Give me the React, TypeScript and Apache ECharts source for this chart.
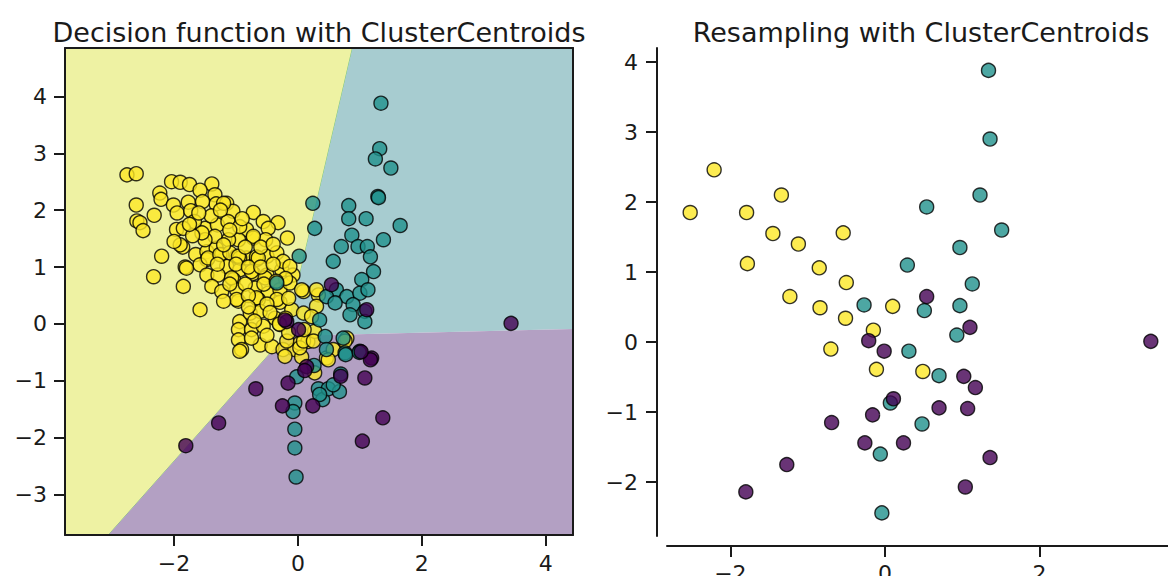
import React, { useEffect, useRef } from "react";
import * as echarts from "echarts";

// ---- data ----
const titles = ["Decision function with ClusterCentroids", "Resampling with ClusterCentroids"];

const leftXTicks = [-2, 0, 2, 4];
const leftYTicks = [-3, -2, -1, 0, 1, 2, 3, 4];
const rightXTicks = [-2, 0, 2];
const rightYTicks = [-2, -1, 0, 1, 2, 3, 4];

const leftXRange = [-3.76, 4.44];
const leftYRange = [-3.71, 4.85];
const rightXRange = [-2.82, 3.74];
const rightYRange = [-2.77, 4.2];

// decision regions (data coordinates)
const yellowRegion = [[-3.76, 4.85], [0.88, 4.85], [-0.2, -0.21], [-3.06, -3.71], [-3.76, -3.71]];
const tealRegion = [[0.88, 4.85], [4.44, 4.85], [4.44, -0.09], [-0.2, -0.21]];
const purpleRegion = [[-0.2, -0.21], [4.44, -0.09], [4.44, -3.71], [-3.06, -3.71]];

const leftYellow = [
  [-2.76, 2.62], [-2.61, 2.64], [-2.04, 2.5], [-1.9, 2.49], [-1.75, 2.45], [-1.39, 2.46], [-2.23, 2.3], [-2.21, 2.19],
  [-2.61, 2.09], [-2.32, 1.91], [-2.6, 1.81], [-2.55, 1.78], [-2.5, 1.64], [-1.58, 2.35], [-1.34, 2.27], [-1.32, 2.11],
  [-2.01, 2.09], [-1.77, 2.14], [-1.54, 2.15], [-1.95, 1.95], [-1.73, 1.99], [-1.15, 2.12], [-1.05, 1.98], [-0.72, 1.96],
  [-1.5, 1.68], [-1.67, 1.8], [-1.3, 1.74], [-1.13, 1.8], [-1.96, 1.66], [-1.85, 1.68], [-0.32, 1.78], [-0.56, 1.8],
  [-0.48, 1.68], [-0.17, 1.51], [-0.83, 1.66], [-0.72, 1.51], [-0.52, 1.48], [-0.96, 1.48], [-1.12, 1.48], [-1.86, 1.35],
  [-1.9, 1.39], [-1.65, 1.22], [-1.47, 1.27], [-1.32, 1.33], [-1.23, 1.22], [-2.2, 1.19], [-1.82, 1.0], [-2.33, 0.83],
  [-1.47, 1.13], [-1.58, 1.04], [-0.99, 1.19], [-0.83, 1.16], [-0.67, 1.13], [-0.5, 1.19], [-0.34, 1.25], [-1.15, 1.01],
  [-0.94, 0.95], [-0.72, 0.89], [-0.5, 0.86], [-0.26, 0.95], [-0.08, 0.86], [-1.47, 0.86], [-1.34, 1.54], [-1.5, 1.48],
  [-1.8, 0.98], [-1.58, 0.25], [-1.85, 0.66], [-1.45, 1.16], [-1.26, 1.22], [-1.1, 1.25], [-0.94, 1.16], [-0.67, 1.18],
  [-0.24, 1.1], [-0.13, 1.01], [-1.29, 0.86], [-1.04, 0.78], [-0.53, 0.81], [-1.39, 0.66], [-1.23, 0.57], [-0.99, 0.6],
  [-0.69, 0.63], [-0.48, 0.54], [-0.29, 0.6], [-0.13, 0.72], [0.09, 0.57], [-0.96, 0.4], [-0.64, 0.43], [-0.29, 0.38],
  [-0.1, 0.25], [0.09, 0.19], [0.33, 0.51], [0.3, 0.31], [-0.94, 0.04], [-0.77, 0.19], [-0.61, 0.22], [-0.37, 0.1],
  [-0.29, -0.01], [-0.96, -0.1], [-0.75, -0.1], [-0.56, -0.04], [-0.96, -0.28], [-0.91, -0.45], [-0.61, -0.37], [-0.42, -0.4],
  [-0.24, -0.45], [-0.05, -0.45], [0.03, -0.34], [0.16, -0.31], [0.27, -0.13], [0.22, 0.13], [-0.21, -0.57], [0.06, -0.58],
  [0.46, -0.6], [0.79, -0.25], [0.57, -0.45], [-0.94, -0.48], [0.03, -0.42], [0.49, -0.63], [0.27, -0.86], [-0.18, -0.3],
  [0.09, -0.3], [0.25, -0.3], [0.76, -0.3], [-1.2, 2.12], [-0.94, 1.71], [-0.72, 1.54], [-1.2, 1.39], [-0.96, 1.19],
  [-0.64, 1.16], [-1.07, 0.81], [-0.75, 0.92], [-0.99, 0.43], [-0.67, 0.46], [-0.34, 0.43], [0.06, 0.6], [0.3, 0.6],
  [-1.1, 1.65], [-0.85, 1.35], [-0.6, 1.35], [-0.4, 1.4], [-1.0, 1.05], [-0.8, 1.0], [-0.6, 1.0], [-0.4, 1.05],
  [-0.2, 0.8], [-1.1, 0.7], [-0.85, 0.7], [-0.55, 0.7], [-0.35, 0.75], [-0.8, 0.5], [-0.5, 0.35], [-0.15, 0.45],
  [-0.8, 0.3], [-1.2, 0.4], [-0.45, 0.2], [-0.2, 0.1], [-0.7, 0.05], [-0.5, -0.2], [-0.15, -0.15], [-0.75, -0.25],
  [-1.3, 1.05], [-1.55, 1.6], [-1.7, 1.55], [-1.4, 1.9], [-1.6, 1.95], [-1.25, 2.0], [-0.9, 1.85], [-2.0, 1.45],
  [-1.75, 1.75], [-0.3, 0.0], [0.1, -0.1],
];

const leftTeal = [
  [1.34, 3.88], [1.32, 3.08], [1.25, 2.9], [1.5, 2.74], [1.29, 2.24], [1.3, 2.22], [0.24, 2.12], [0.82, 2.08],
  [0.82, 1.85], [1.1, 1.85], [1.65, 1.73], [0.27, 1.68], [0.87, 1.56], [0.7, 1.36], [0.97, 1.36], [1.12, 1.36],
  [1.38, 1.48], [0.02, 1.19], [0.57, 1.1], [1.17, 1.18], [1.22, 0.92], [1.03, 0.78], [0.62, 0.6], [0.79, 0.48],
  [1.0, 0.54], [1.13, 0.6], [0.46, 0.48], [0.6, 0.37], [0.89, 0.34], [1.08, 0.22], [1.08, 0.04], [0.84, 0.16],
  [0.35, 0.07], [0.44, -0.22], [0.73, -0.25], [0.46, -0.45], [0.76, -0.51], [1.0, -0.48], [-0.34, 0.72], [-0.05, -1.39],
  [-0.08, -1.54], [-0.05, -1.85], [-0.05, -2.18], [-0.03, -2.69], [-0.02, -0.93], [0.26, -0.73], [0.33, -1.14], [0.4, -1.33],
  [0.49, -1.14], [0.67, -1.19], [0.57, -1.07], [0.35, -1.24], [0.69, -0.88], [0.77, -0.54], [0.99, -0.5],
];

const leftPurple = [
  [3.44, 0.01], [0.54, 0.69], [1.11, 0.25], [0.01, -0.1], [-0.18, 0.04], [1.19, -0.6], [0.14, -0.75], [-1.81, -2.14],
  [-1.28, -1.74], [-0.68, -1.14], [-0.25, -1.44], [0.24, -1.44], [-0.16, -1.04], [0.11, -0.82], [0.69, -0.92], [1.08, -0.95],
  [1.17, -0.63], [1.37, -1.65], [1.04, -2.06], [1.02, -0.49], [-0.21, 0.07],
];

const rightYellow = [
  [-2.52, 1.85], [-2.21, 2.46], [-1.79, 1.85], [-1.78, 1.12], [-1.34, 2.1], [-1.45, 1.55], [-1.12, 1.4], [-0.85, 1.06],
  [-0.54, 1.56], [-0.5, 0.85], [-1.23, 0.65], [-0.84, 0.49], [-0.51, 0.34], [0.1, 0.51], [-0.15, 0.17], [-0.7, -0.1],
  [-0.11, -0.39], [0.49, -0.42],
];

const rightTeal = [
  [1.34, 3.88], [1.36, 2.9], [1.23, 2.1], [0.54, 1.93], [1.51, 1.6], [0.97, 1.35], [0.29, 1.1], [1.13, 0.83],
  [-0.27, 0.53], [0.51, 0.45], [0.97, 0.52], [0.93, 0.1], [0.31, -0.13], [0.7, -0.48], [0.07, -0.87], [0.48, -1.17],
  [-0.06, -1.6], [-0.04, -2.44],
];

const rightPurple = [
  [0.54, 0.65], [1.1, 0.21], [-0.21, 0.02], [-0.01, -0.13], [3.44, 0.01], [1.02, -0.49], [1.17, -0.65], [0.11, -0.81],
  [0.7, -0.94], [1.07, -0.95], [-0.16, -1.04], [-0.69, -1.15], [-0.26, -1.44], [0.24, -1.44], [1.36, -1.65], [-1.27, -1.75],
  [-1.8, -2.14], [1.04, -2.07],
];

// ---- styling ----
const FONT = "DejaVu Sans";
const INK = "#1a1a1a";
const YELLOW = "#fde725";
const TEAL = "#21918c";
const PURPLE = "#440154";
const TICK_FONT = 22;
const TITLE_FONT = 27;

const fmt = (v: number) => (v < 0 ? "\u2212" + Math.abs(v) : String(v));

function valueAxis(opts: any) {
  const { grid, range, ticks, position, offset, labels, margin } = opts;
  return {
    type: "value",
    gridIndex: grid,
    min: range[0],
    max: range[1],
    position,
    offset: offset || 0,
    z: 6,
    axisLine: { show: true, onZero: false, lineStyle: { color: INK, width: 2 } },
    axisTick: labels
      ? { show: true, length: 11, customValues: ticks, lineStyle: { color: INK, width: 2 } }
      : { show: false },
    axisLabel: labels
      ? {
          show: true,
          customValues: ticks,
          formatter: fmt,
          fontFamily: FONT,
          fontSize: TICK_FONT,
          color: INK,
          margin,
        }
      : { show: false },
    splitLine: { show: false },
  };
}

function regionSeries(poly: number[][], color: string, stroke: string | null) {
  return {
    type: "custom",
    xAxisIndex: 0,
    yAxisIndex: 0,
    z: 1,
    silent: true,
    clip: true,
    data: [[0, 0]],
    renderItem: (_params: any, api: any) => ({
      type: "polygon",
      shape: { points: poly.map((p) => api.coord(p)) },
      style: { fill: color, stroke: stroke || "none", lineWidth: stroke ? 1 : 0 },
    }),
  };
}

function scatter(data: number[][], color: string, axis: number) {
  return {
    type: "scatter",
    xAxisIndex: axis,
    yAxisIndex: axis,
    z: 3,
    symbolSize: 14,
    data,
    itemStyle: { color, borderColor: "#000", borderWidth: 1.4, opacity: 0.8 },
    emphasis: { disabled: true },
  };
}

export default function App() {
  const ref = useRef<HTMLDivElement>(null);

  useEffect(() => {
    if (!ref.current) return;
    const chart = echarts.init(ref.current, null, { renderer: "svg" });
    const option: any = {
      animation: false,
      backgroundColor: "#ffffff",
      grid: [
        { left: 65, top: 48, width: 508, height: 487, containLabel: false, outerBoundsMode: "none" },
        { left: 667, top: 48, width: 507, height: 488, containLabel: false, outerBoundsMode: "none" },
      ],
      xAxis: [
        valueAxis({ grid: 0, range: leftXRange, ticks: leftXTicks, position: "bottom", labels: true, margin: 17 }),
        valueAxis({ grid: 0, range: leftXRange, ticks: leftXTicks, position: "top", labels: false }),
        valueAxis({ grid: 1, range: rightXRange, ticks: rightXTicks, position: "bottom", offset: 10, labels: true, margin: 16 }),
      ],
      yAxis: [
        valueAxis({ grid: 0, range: leftYRange, ticks: leftYTicks, position: "left", labels: true, margin: 18 }),
        valueAxis({ grid: 0, range: leftYRange, ticks: leftYTicks, position: "right", labels: false }),
        valueAxis({ grid: 1, range: rightYRange, ticks: rightYTicks, position: "left", offset: 10, labels: true, margin: 19 }),
      ],
      graphic: [
        {
          type: "text",
          x: 319,
          y: 32,
          style: { text: titles[0], font: `${TITLE_FONT}px "${FONT}"`, fill: INK, align: "center", verticalAlign: "middle" },
        },
        {
          type: "text",
          x: 921,
          y: 32,
          style: { text: titles[1], font: `${TITLE_FONT}px "${FONT}"`, fill: INK, align: "center", verticalAlign: "middle" },
        },
      ],
      series: [
        regionSeries(yellowRegion, "#eef2a3", "rgba(120,195,110,0.9)"),
        regionSeries(tealRegion, "#a7ccd0", null),
        regionSeries(purpleRegion, "#b3a0c3", null),
        scatter(leftYellow, YELLOW, 0),
        scatter(leftTeal, TEAL, 0),
        scatter(leftPurple, PURPLE, 0),
        scatter(rightYellow, YELLOW, 2),
        scatter(rightTeal, TEAL, 2),
        scatter(rightPurple, PURPLE, 2),
      ],
    };
    chart.setOption(option);
    return () => chart.dispose();
  }, []);

  return (
    <div
      ref={ref}
      style={{ position: "absolute", left: 0, top: 0, width: 1168, height: 576, background: "#fff" }}
    />
  );
}
